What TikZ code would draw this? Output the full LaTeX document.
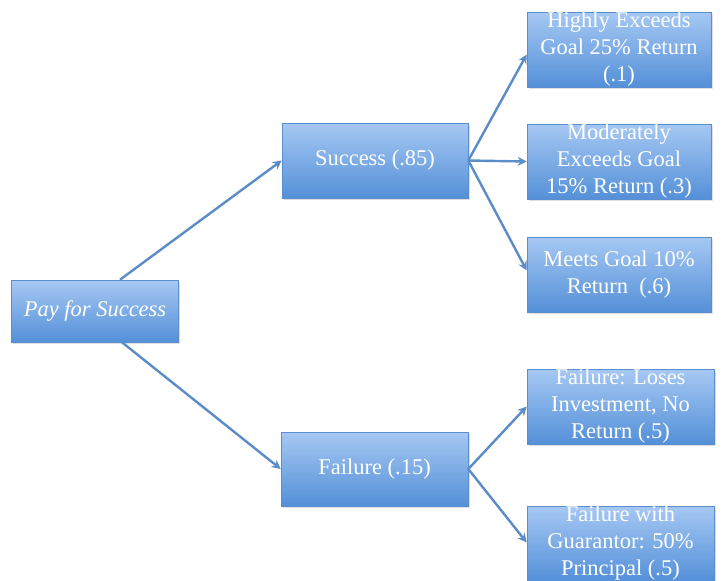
\documentclass[tikz,border=0pt]{standalone}
\usepackage{fontspec}
\setmainfont{Liberation Serif}
\usetikzlibrary{arrows.meta,shadows}
\definecolor{boxtop}{HTML}{A6C8F3}
\definecolor{boxbot}{HTML}{5490D8}
\definecolor{boxline}{HTML}{5B8ECF}
\definecolor{arrowblue}{HTML}{5B8CC8}
\begin{document}
\begin{tikzpicture}[x=1pt, y=-1pt,
    every node/.style={rectangle, draw=boxline, line width=0.6pt, top color=boxtop, bottom color=boxbot,
        drop shadow={opacity=0.25, shadow xshift=1.5pt, shadow yshift=-1.5pt},
        text=white, align=center, inner sep=0pt, font=\fontsize{22.5}{27}\selectfont},
    branch/.style={draw=arrowblue, line width=2.4pt, -{Stealth[length=9pt,width=9pt]}}]
    \useasboundingbox (0,0) rectangle (724,581);
    % Root
    \node[minimum width=167pt, minimum height=62pt] (pay) at (95,311) {\itshape Pay for Success};

    % Outcomes
    \node[minimum width=186pt, minimum height=75pt] (success) at (375,160.5) {Success (.85)};
    \node[minimum width=187pt, minimum height=74pt] (failure) at (374.5,469) {Failure (.15)};

    % Success branches
    \node[minimum width=184pt, minimum height=75pt] (high) at (619,49.5) {Highly Exceeds\\Goal 25\% Return\\(.1)};
    \node[minimum width=184pt, minimum height=75pt] (moderate) at (619,161.5) {Moderately\\Exceeds Goal\\15\% Return (.3)};
    \node[minimum width=184pt, minimum height=75pt] (meets) at (619,274.5) {Meets Goal 10\%\\Return~~(.6)};

    % Failure branches
    \node[minimum width=187pt, minimum height=75pt] (loses) at (620.5,406.5) {Failure: Loses\\Investment, No\\Return (.5)};
    \node[minimum width=187pt, minimum height=75pt] (guarantor) at (620.5,543.5) {Failure with\\Guarantor: 50\%\\Principal (.5)};

    % Arrows
    \draw[branch] ([xshift=25pt]pay.north) -- (success.west);
    \draw[branch] ([xshift=27pt]pay.south) -- (failure.west);
    \draw[branch] (success.east) -- ([yshift=-5pt]high.west);
    \draw[branch] (success.east) -- (moderate.west);
    \draw[branch] (success.east) -- ([yshift=4pt]meets.west);
    \draw[branch] (failure.east) -- (loses.west);
    \draw[branch] (failure.east) -- ([yshift=1pt]guarantor.west);
\end{tikzpicture}
\end{document}
